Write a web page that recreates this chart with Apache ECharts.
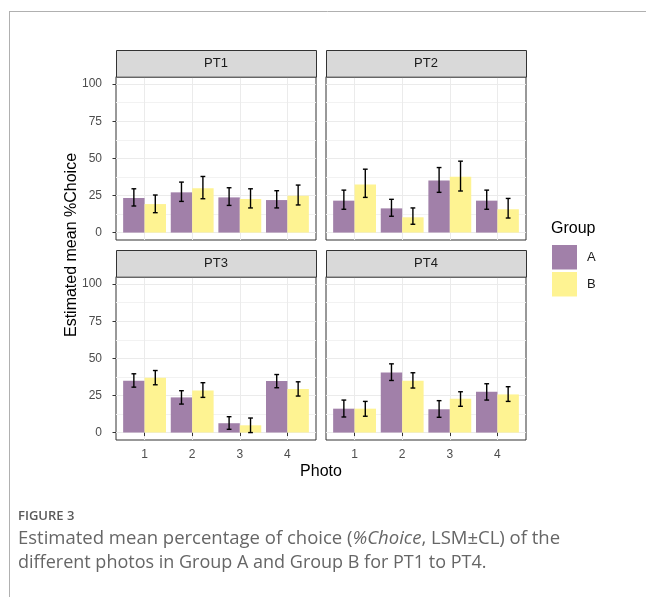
<!DOCTYPE html>
<html><head><meta charset="utf-8">
<script src="https://cdn.jsdelivr.net/npm/echarts@6/dist/echarts.min.js"></script>
<style>html,body{margin:0;padding:0;background:#fff}#c{width:646px;height:597px}</style>
</head><body><div id="c"></div>
<script>
// ---------- data ----------
const panels = ['PT1', 'PT2', 'PT3', 'PT4'];
const photos = [1, 2, 3, 4];
const groups = ['A', 'B'];
const yTickValues = [0, 25, 50, 75, 100];
const yMinorValues = [12.5, 37.5, 62.5, 87.5];
// estimated means per panel (rows) and photo (columns)
const meanA = [[23.3, 27.1, 23.7, 21.9], [21.5, 16.3, 35.1, 21.5], [34.9, 23.7, 6.3, 34.7], [16.1, 40.5, 15.7, 27.5]];
const lowA  = [[17.9, 21.0, 18.3, 16.6], [15.7, 11.0, 27.1, 15.7], [30.6, 19.2, 2.2, 30.2], [10.5, 35.1, 10.3, 21.9]];
const highA = [[29.5, 34.0, 30.2, 28.2], [28.6, 22.4, 43.8, 28.6], [39.6, 28.2, 10.7, 39.1], [21.9, 46.3, 21.5, 32.9]];
const meanB = [[19.2, 29.8, 22.6, 24.8], [32.4, 10.3, 37.6, 15.7], [36.9, 28.4, 4.9, 29.3], [16.1, 34.9, 22.8, 25.7]];
const lowB  = [[13.4, 22.8, 16.6, 18.6], [23.7, 5.6, 28.0, 9.8], [32.2, 23.7, 0.0, 24.6], [11.0, 30.0, 17.7, 21.0]];
const highB = [[25.3, 37.8, 29.5, 32.0], [42.7, 16.6, 48.1, 23.0], [41.8, 33.6, 9.8, 34.2], [21.0, 40.3, 27.5, 30.9]];

// ---------- layout ----------
const FONT = 'Liberation Sans, Arial, sans-serif';
const CAPFONT = '"Open Sans", sans-serif';
const colA = '#A180A9', colB = '#FEF392';
const gridPos = [
  {left: 116, top: 76.7}, {left: 326, top: 76.7},
  {left: 116, top: 276.7}, {left: 326, top: 276.7}
];
const GW = 200, GH = 163.3, STRIP = 26.7;

function makeRender(offset) {
  return function (params, api) {
    const x = api.value(0) + offset;
    const m = api.value(1), lo = api.value(2), hi = api.value(3);
    const p0 = api.coord([x - 0.225, 0]);
    const p1 = api.coord([x + 0.225, m]);
    const cLo = api.coord([x, lo]);
    const cHi = api.coord([x, hi]);
    const cl = api.coord([x - 0.05, lo])[0];
    const cr = api.coord([x + 0.05, lo])[0];
    const es = {stroke: '#000', lineWidth: 1.4};
    return {
      type: 'group',
      children: [
        {type: 'rect', shape: {x: p0[0], y: p1[1], width: p1[0] - p0[0], height: p0[1] - p1[1]},
         style: {fill: api.visual('color')}},
        {type: 'line', shape: {x1: cLo[0], y1: cLo[1], x2: cHi[0], y2: cHi[1]}, style: es},
        {type: 'line', shape: {x1: cl, y1: cLo[1], x2: cr, y2: cLo[1]}, style: es},
        {type: 'line', shape: {x1: cl, y1: cHi[1], x2: cr, y2: cHi[1]}, style: es}
      ]
    };
  };
}

const grids = [], xAxes = [], yAxes = [], series = [], graphics = [];
panels.forEach((p, i) => {
  const g = gridPos[i];
  const bottomRow = i >= 2, leftCol = i % 2 === 0;
  grids.push({left: g.left, top: g.top, width: GW, height: GH, show: true,
    borderColor: '#333', borderWidth: 1, backgroundColor: 'transparent'});
  xAxes.push({
    gridIndex: i, type: 'value', min: 0.4, max: 4.6,
    axisLine: {show: false},
    axisTick: {show: bottomRow, customValues: photos, length: 3.5, lineStyle: {color: '#333'}},
    axisLabel: {show: bottomRow, customValues: photos, color: '#4d4d4d', fontSize: 12, fontFamily: FONT, margin: 9},
    splitLine: {show: true, lineStyle: {color: '#ebebeb', width: 1}}
  });
  yAxes.push({
    gridIndex: i, type: 'value', min: -5, max: 105,
    axisLine: {show: false},
    axisTick: {show: leftCol, customValues: yTickValues, length: 3.5, lineStyle: {color: '#333'}},
    axisLabel: {show: leftCol, customValues: yTickValues, color: '#4d4d4d', fontSize: 12, fontFamily: FONT, margin: 14},
    splitLine: {show: true, lineStyle: {color: '#ebebeb', width: 1}}
  });
  yAxes.push({
    gridIndex: i, type: 'value', min: -5, max: 105, position: 'left',
    axisLine: {show: false},
    axisTick: {show: false, customValues: yMinorValues},
    axisLabel: {show: false, customValues: yMinorValues},
    splitLine: {show: true, lineStyle: {color: '#f2f2f2', width: 1}}
  });
  const dataA = photos.map((ph, j) => [ph, meanA[i][j], lowA[i][j], highA[i][j]]);
  const dataB = photos.map((ph, j) => [ph, meanB[i][j], lowB[i][j], highB[i][j]]);
  series.push({name: 'A', type: 'custom', xAxisIndex: i, yAxisIndex: 2 * i,
    itemStyle: {color: colA}, renderItem: makeRender(-0.225), data: dataA, z: 3});
  series.push({name: 'B', type: 'custom', xAxisIndex: i, yAxisIndex: 2 * i,
    itemStyle: {color: colB}, renderItem: makeRender(0.225), data: dataB, z: 3});
  // strip header
  graphics.push({type: 'rect', shape: {x: g.left + 0.5, y: g.top - STRIP + 0.5, width: GW, height: STRIP},
    style: {fill: '#d9d9d9', stroke: '#333', lineWidth: 1}, z: 1});
  graphics.push({type: 'text', x: g.left + GW / 2, y: g.top - STRIP / 2,
    style: {text: p, fill: '#1a1a1a', font: '13px ' + FONT, textAlign: 'center', textVerticalAlign: 'middle'}, z: 2});
});

// axis titles, legend title, frame, caption
graphics.push({type: 'text', x: 72, y: 245, rotation: Math.PI / 2,
  style: {text: 'Estimated mean %Choice', fill: '#000', font: '16px ' + FONT, textAlign: 'center', textVerticalAlign: 'middle'}});
graphics.push({type: 'text', x: 321, y: 472,
  style: {text: 'Photo', fill: '#000', font: '16px ' + FONT, textAlign: 'center', textVerticalAlign: 'middle'}});
graphics.push({type: 'text', x: 551, y: 229,
  style: {text: 'Group', fill: '#000', font: '16px ' + FONT, textAlign: 'left', textVerticalAlign: 'middle'}});
graphics.push({type: 'line', shape: {x1: 9, y1: 11.5, x2: 646, y2: 11.5}, style: {stroke: '#b0b0b0', lineWidth: 1}});
graphics.push({type: 'line', shape: {x1: 9.5, y1: 11, x2: 9.5, y2: 597}, style: {stroke: '#b0b0b0', lineWidth: 1}});
graphics.push({type: 'text', x: 18, y: 516,
  style: {text: 'FIGURE 3', fill: '#5a5a5a', font: '600 13px ' + CAPFONT, textVerticalAlign: 'middle'}});
graphics.push({type: 'text', x: 18, y: 539,
  style: {text: 'Estimated mean percentage of choice ({i|%Choice}, LSM\u00B1CL) of the',
    fill: '#666', font: '18.5px ' + CAPFONT, textVerticalAlign: 'middle',
    rich: {i: {fontStyle: 'italic', fontSize: 18.5, fontFamily: CAPFONT, fill: '#666'}}}});
graphics.push({type: 'text', x: 18, y: 563,
  style: {text: 'different photos in Group A and Group B for PT1 to PT4.',
    fill: '#666', font: '18px ' + CAPFONT, textVerticalAlign: 'middle'}});

const chart = echarts.init(document.getElementById('c'), null, {renderer: 'canvas'});
chart.setOption({
  animation: false,
  backgroundColor: '#fff',
  grid: grids,
  xAxis: xAxes,
  yAxis: yAxes,
  legend: {
    data: groups.map(n => ({name: n, icon: 'rect'})),
    orient: 'vertical', left: 552, top: 245, padding: 0,
    itemWidth: 25, itemHeight: 24.5, itemGap: 2.5, selectedMode: false,
    textStyle: {fontSize: 13, color: '#1a1a1a', fontFamily: FONT, padding: [0, 0, 0, 5]}
  },
  series: series,
  graphic: graphics
});
</script>
</body></html>
